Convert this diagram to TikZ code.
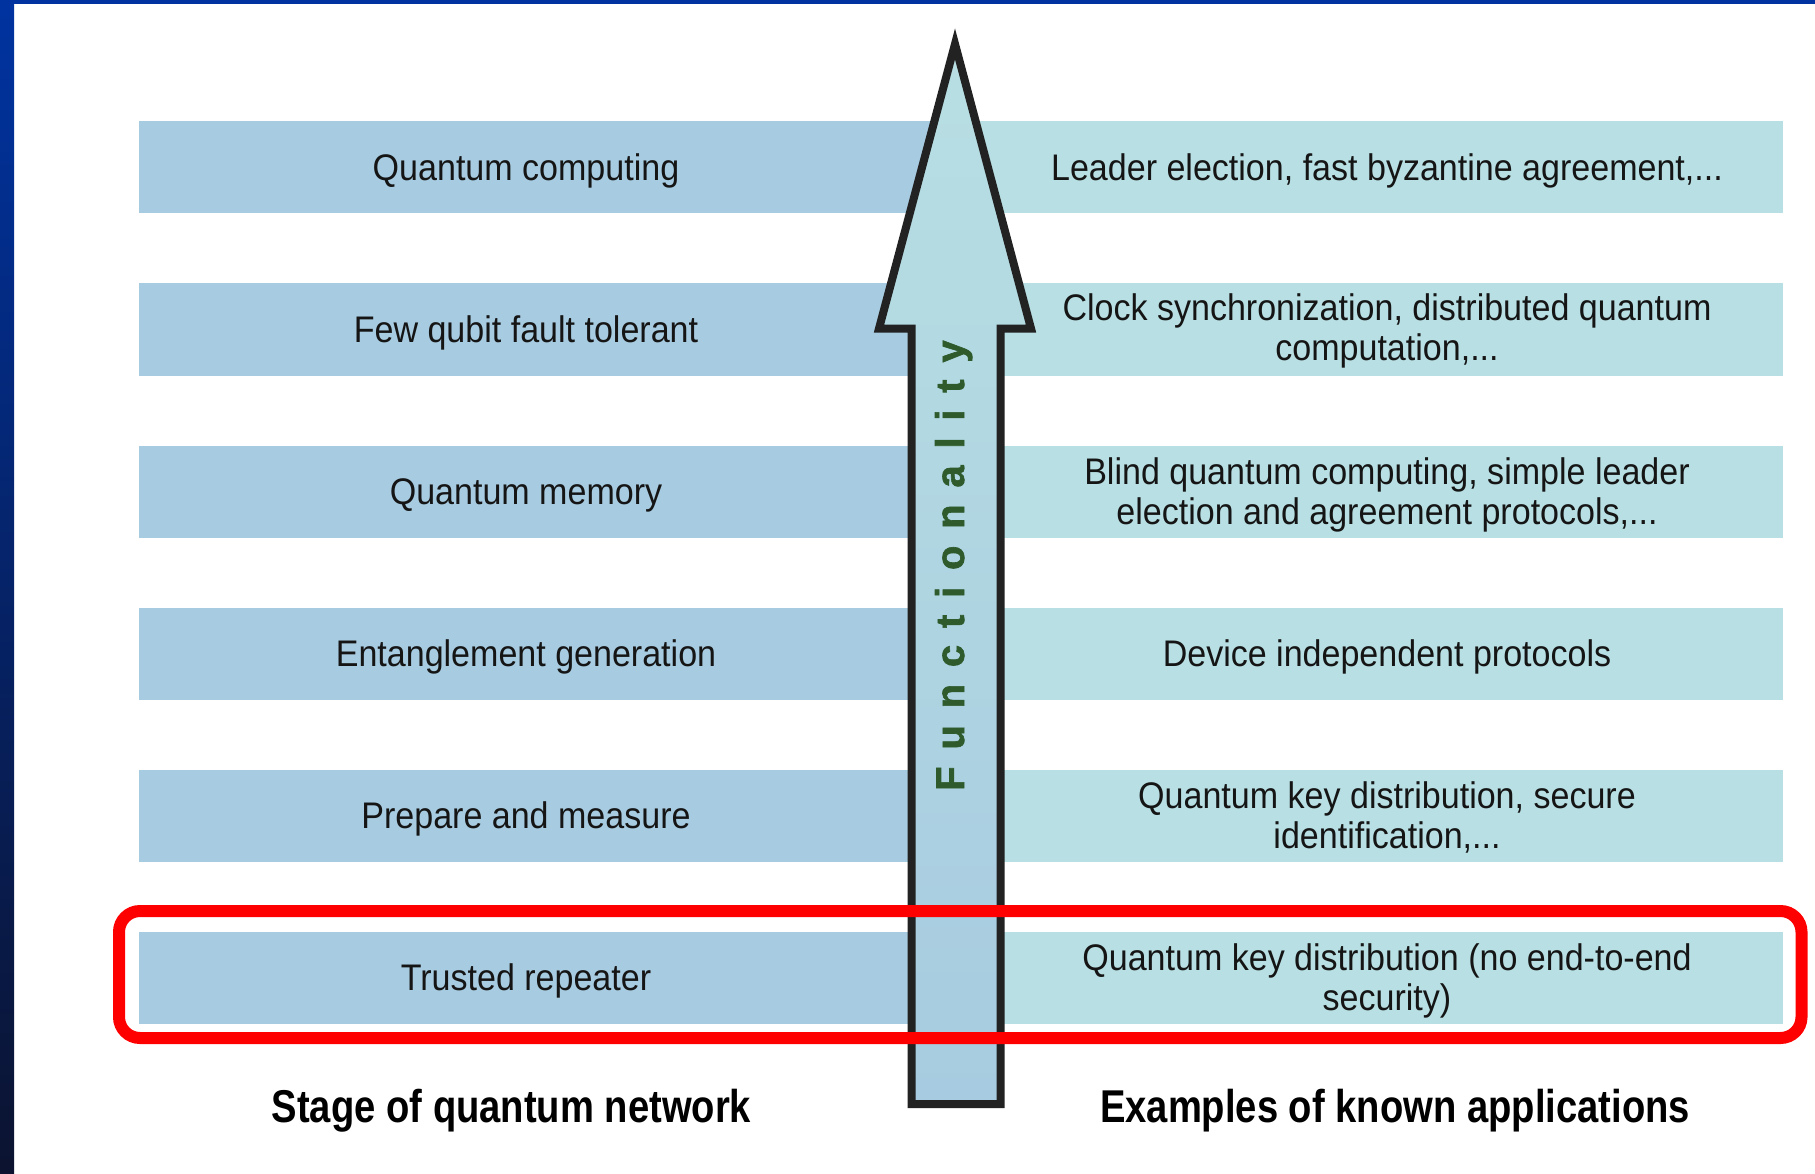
\documentclass[tikz,border=0pt]{standalone}
\usepackage{fontspec}
\setmainfont[FakeStretch=0.92]{Liberation Sans}
\newfontfamily\headfont[FakeStretch=0.83]{Liberation Sans}
\newfontfamily\funcfont[LetterSpace=42, FakeBold=1.5]{Liberation Sans Bold}

\definecolor{frametop}{HTML}{0033A0}
\definecolor{framebot}{HTML}{0B1330}
\definecolor{stagefill}{HTML}{A7CBE0}
\definecolor{appfill}{HTML}{B8DFE3}
\definecolor{arrowline}{HTML}{222222}
\definecolor{funcgreen}{HTML}{2E5A2C}
\definecolor{textcol}{HTML}{151515}

\tikzset{
  stagebox/.style={fill=stagefill, draw=none, inner sep=0pt,
    minimum width=816pt, minimum height=92pt},
  appbox/.style={fill=appfill, draw=none, inner sep=0pt,
    minimum width=828pt, minimum height=92pt},
  rowtext/.style={inner sep=0pt, text=textcol, align=center,
    font=\fontsize{37}{40}\selectfont},
  oneline/.style={rowtext, anchor=base},
  headlabel/.style={inner sep=0pt, anchor=base, text=black,
    font=\headfont\bfseries\fontsize{46}{50}\selectfont},
  funclabel/.style={inner sep=0pt, text=funcgreen, rotate=90, anchor=base west,
    font=\funcfont\fontsize{40}{44}\selectfont},
  bigarrow/.style={top color=appfill, bottom color=stagefill, draw=arrowline,
    line width=8pt, line join=miter},
  hilite/.style={draw=red, line width=12pt, rounded corners=21pt}
}

\begin{document}
\begin{tikzpicture}[x=1pt, y=-1pt]
  \useasboundingbox (0,0) rectangle (1815,1174);
  \fill[white] (0,0) rectangle (1815,1174);

  % slide frame: top bar and shaded left bar
  \shade[top color=frametop, bottom color=framebot] (0,0) rectangle (14,1174);
  \fill[frametop] (0,0) rectangle (1815,4);

  % stage bands (left) and application bands (right)
  \node[stagebox] (s1) at (547,167.5) {};
  \node[stagebox] (s2) at (547,329.5) {};
  \node[stagebox] (s3) at (547,491.5) {};
  \node[stagebox] (s4) at (547,653.5) {};
  \node[stagebox] (s5) at (547,815.5) {};
  \node[stagebox] (s6) at (547,977.5) {};

  \node[appbox] (a1) at (1369,167.5) {};
  \node[appbox] (a2) at (1369,329.5) {};
  \node[appbox] (a3) at (1369,491.5) {};
  \node[appbox] (a4) at (1369,653.5) {};
  \node[appbox] (a5) at (1369,815.5) {};
  \node[appbox] (a6) at (1369,977.5) {};

  % stage names
  \node[oneline] (st1) at (526,180.5) {Quantum computing};
  \node[oneline] (st2) at (526,342.5) {Few qubit fault tolerant};
  \node[oneline] (st3) at (526,504.5) {Quantum memory};
  \node[oneline] (st4) at (526,666.5) {Entanglement generation};
  \node[oneline] (st5) at (526,828.5) {Prepare and measure};
  \node[oneline] (st6) at (526,990.5) {Trusted repeater};

  % known applications
  \node[oneline] (ap1) at (1387,180.5) {Leader election, fast byzantine agreement,...};
  \node[rowtext] (ap2) at (1387,331) {Clock synchronization, distributed quantum\\computation,...};
  \node[rowtext] (ap3) at (1387,495) {Blind quantum computing, simple leader\\election and agreement protocols,...};
  \node[oneline] (ap4) at (1387,666.5) {Device independent protocols};
  \node[rowtext] (ap5) at (1387,817) {Quantum key distribution, secure\\identification,...};
  \node[rowtext] (ap6) at (1387,981) {Quantum key distribution (no end-to-end\\security)};

  % functionality arrow
  \shadedraw[bigarrow] (911.5,1104) -- (911.5,328.5) -- (879,328.5) -- (955,44)
    -- (1031,328.5) -- (1000.5,328.5) -- (1000.5,1104) -- cycle;
  \node[funclabel] (func) at (964,791) {Functionality};

  % highlight around the lowest stage
  \draw[hilite] (119,911) rectangle (1801.5,1038);

  % column headings
  \node[headlabel] (stagehead) at (511.5,1122) {Stage of quantum network};
  \node[headlabel] (apphead) at (1395,1122) {Examples of known applications};
\end{tikzpicture}
\end{document}
